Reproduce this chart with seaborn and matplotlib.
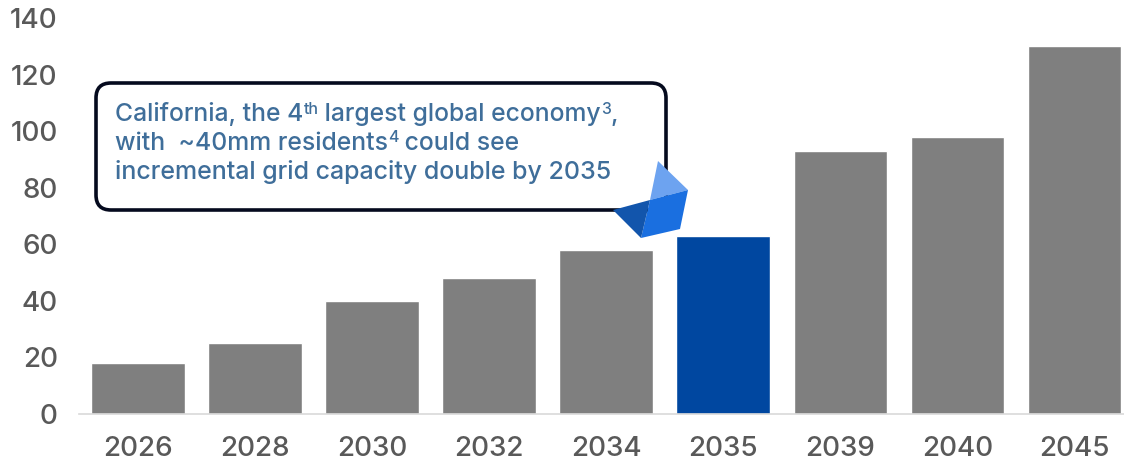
import matplotlib
matplotlib.use("Agg")
import matplotlib.pyplot as plt
import numpy as np
import pandas as pd
import seaborn as sns
from matplotlib.patches import FancyBboxPatch, Polygon

years = ["2026", "2028", "2030", "2032", "2034", "2035", "2039", "2040", "2045"]
capacity = [18, 25, 40, 48, 58, 63, 93, 98, 130]
highlight = "2035"
y_ticks = [0, 20, 40, 60, 80, 100, 120, 140]

# Callout copy as (text, is_superscript) runs, one list per line
callout_lines = [
    [("California, the 4", False), ("th", True), (" largest global economy", False),
     ("3", True), (",", False)],
    [("with  ~40mm residents", False), ("4", True), (" could see", False)],
    [("incremental grid capacity double by 2035", False)],
]

W, H = 1124, 462
sns.set_theme(style="white")
plt.rcParams["font.family"] = ["Inter", "DejaVu Sans"]
plt.rcParams["font.weight"] = 500

fig = plt.figure(figsize=(W / 100, H / 100), dpi=100)
# The plot area runs slightly past the right edge of the canvas
ax = fig.add_axes([79.2 / W, 1 - 413.5 / H, 1054 / W, 395.4 / H])

df = pd.DataFrame({"year": years, "capacity": capacity})
palette = {y: ("#0047A0" if y == highlight else "#7F7F7F") for y in years}
sns.barplot(data=df, x="year", y="capacity", hue="year", palette=palette,
            width=0.8, saturation=1, legend=False, ax=ax)

ax.set_xlim(-0.5, len(years) - 0.5)
ax.set_ylim(0, 140)
ax.set_yticks(y_ticks)
ax.set_xlabel("")
ax.set_ylabel("")
for side in ("top", "right", "left"):
    ax.spines[side].set_visible(False)
ax.spines["bottom"].set_color("#D9D9D9")
ax.spines["bottom"].set_linewidth(1.2)
ax.tick_params(axis="both", length=0, labelsize=20, labelcolor="#595959")
ax.tick_params(axis="x", pad=16)
ax.tick_params(axis="y", pad=15.5)

# Callout box, drawn in a pixel-based overlay
overlay = fig.add_axes([0, 0, 1, 1], facecolor="none")
overlay.set_xlim(0, W)
overlay.set_ylim(H, 0)
overlay.axis("off")
overlay.add_patch(FancyBboxPatch((96, 83), 570, 127,
                                 boxstyle="round,pad=0,rounding_size=15",
                                 fc="white", ec="#050A1E", lw=2.6))

text_color = "#3F6E9A"
renderer = fig.canvas.get_renderer()
baselines = [121.5, 150, 179]
body_sizes = [17.8, 17.85, 18.0]
for baseline, base_size, runs in zip(baselines, body_sizes, callout_lines):
    x = 115.0
    for s, is_super in runs:
        size = 11.5 if is_super else base_size
        y = baseline - 7.5 if is_super else baseline
        t = overlay.text(x, y, s, color=text_color, fontsize=size,
                         va="baseline", ha="left")
        x += t.get_window_extent(renderer).width

# Faceted gem accent on the box corner
overlay.add_patch(Polygon([(658, 161), (688, 190), (650, 200)], fc="#6DA3F0", ec="none"))
overlay.add_patch(Polygon([(650, 200), (688, 190), (680, 229), (641, 238)], fc="#1A6FE0", ec="none"))
overlay.add_patch(Polygon([(613, 210), (650, 200), (641, 238)], fc="#1255AC", ec="none"))

fig.savefig("out.png", dpi=100)
